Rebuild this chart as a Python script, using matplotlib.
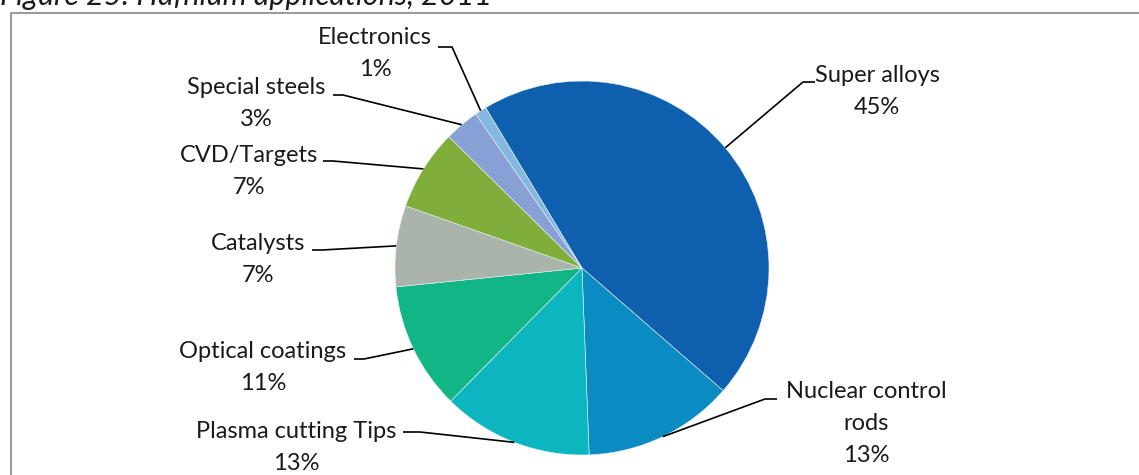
import matplotlib
matplotlib.use("Agg")
import numpy as np
import matplotlib.pyplot as plt
from matplotlib.lines import Line2D

plt.rcParams['font.family'] = ['Lato', 'DejaVu Sans']

# Hafnium applications, 2011 (share of total, %)
applications = ['Super alloys', 'Nuclear control\nrods', 'Plasma cutting Tips',
                'Optical coatings', 'Catalysts', 'CVD/Targets',
                'Special steels', 'Electronics']
shares = [45, 13, 13, 11, 7, 7, 3, 1]
colors = ['#0E5FAE', '#0A8BC1', '#0BB6C1', '#12B686',
          '#A9B5AB', '#7FAF3A', '#88A0D6', '#84B8E2']

# centre of the first label line (pixels from top-left) and leader elbow point
label_pos = [(877, 75), (866, 391), (296, 432), (263, 352),
             (258, 244), (249, 155), (256, 87), (375, 37)]
elbow_pos = [(803, 82), (765, 399), (420, 432), (364, 359),
             (322, 250), (333, 161), (343, 95), (452, 47)]
text_end = [815, 777, 403, 354, 312, 323, 333, 438]
line_step = 32

W, H = 1139, 475
fig = plt.figure(figsize=(W / 100, H / 100), dpi=100)
ax = fig.add_axes([0, 0, 1, 1])

cx, cy, r = 582, H - 268, 187
wedges, _ = ax.pie(shares, colors=colors, startangle=121, counterclock=False,
                   center=(cx, cy), radius=r,
                   wedgeprops=dict(edgecolor='#e8f0f4', linewidth=0.4))
ax.set_xlim(0, W)
ax.set_ylim(0, H)
ax.set_aspect('auto')
ax.axis('off')

for w, name, pct, (lx, ly), (ex, ey), tx in zip(wedges, applications, shares,
                                               label_pos, elbow_pos, text_end):
    mid = np.deg2rad((w.theta1 + w.theta2) / 2)
    px, py = cx + r * np.cos(mid), cy + r * np.sin(mid)
    ax.plot([px, ex, tx], [py, H - ey, H - ey], color='black', lw=1.2,
            solid_capstyle='butt')
    lines = name.split('\n') + [f'{pct}%']
    for i, s in enumerate(lines):
        ax.text(lx, H - (ly + i * line_step), s, ha='center', va='center',
                fontsize=17, color='#1a1a1a')

# chart frame (top and left edges visible)
fig.add_artist(Line2D([10.5 / W, 10.5 / W, 1], [0, 1 - 13 / H, 1 - 13 / H],
                      transform=fig.transFigure, color='#878787', lw=1.2))

fig.text(0, 1 - 5 / H, 'Figure 25: Hafnium applications, 2011',
         fontsize=22, style='italic', ha='left', va='baseline', color='#1a1a1a')

fig.savefig('out.png', dpi=100)
